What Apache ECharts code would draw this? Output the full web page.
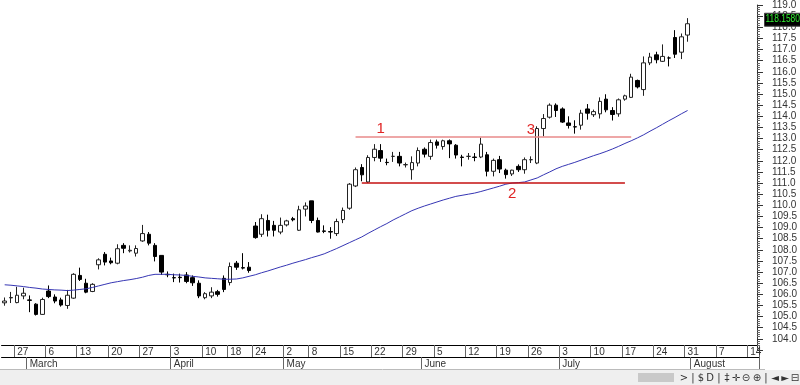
<!DOCTYPE html>
<html><head><meta charset="utf-8">
<script src="https://cdn.jsdelivr.net/npm/echarts@6/dist/echarts.min.js"></script>
<style>html,body{margin:0;padding:0;background:#fff}#c{width:800px;height:385px}</style>
</head><body><div id="c"></div>
<script>
// ---- categories (trading days) ----
const dates = [
'2017-02-23','2017-02-24','2017-02-27','2017-02-28',
'2017-03-01','2017-03-02','2017-03-03','2017-03-06','2017-03-07','2017-03-08','2017-03-09','2017-03-10',
'2017-03-13','2017-03-14','2017-03-15','2017-03-16','2017-03-17','2017-03-20','2017-03-21','2017-03-22','2017-03-23','2017-03-24',
'2017-03-27','2017-03-28','2017-03-29','2017-03-30','2017-03-31',
'2017-04-03','2017-04-04','2017-04-05','2017-04-06','2017-04-07','2017-04-10','2017-04-11','2017-04-12','2017-04-13',
'2017-04-18','2017-04-19','2017-04-20','2017-04-21','2017-04-24','2017-04-25','2017-04-26','2017-04-27','2017-04-28',
'2017-05-02','2017-05-03','2017-05-04','2017-05-05','2017-05-08','2017-05-09','2017-05-10','2017-05-11','2017-05-12',
'2017-05-15','2017-05-16','2017-05-17','2017-05-18','2017-05-19','2017-05-22','2017-05-23','2017-05-24','2017-05-25','2017-05-26',
'2017-05-29','2017-05-30','2017-05-31','2017-06-01','2017-06-02',
'2017-06-05','2017-06-06','2017-06-07','2017-06-08','2017-06-09','2017-06-12','2017-06-13','2017-06-14','2017-06-15','2017-06-16',
'2017-06-19','2017-06-20','2017-06-21','2017-06-22','2017-06-23','2017-06-26','2017-06-27','2017-06-28','2017-06-29','2017-06-30',
'2017-07-03','2017-07-04','2017-07-05','2017-07-06','2017-07-07','2017-07-10','2017-07-11','2017-07-12','2017-07-13','2017-07-14',
'2017-07-17','2017-07-18','2017-07-19','2017-07-20','2017-07-21','2017-07-24','2017-07-25','2017-07-26','2017-07-27','2017-07-28',
'2017-07-31',
'2017-08-01','2017-08-02','2017-08-03','2017-08-04','2017-08-07','2017-08-08','2017-08-09','2017-08-10','2017-08-11',
'2017-08-14','2017-08-15'
];
// ---- price series ----
const opens = [
105.62,105.84,105.63,105.93,105.75,105.56,105.10,106.15,105.88,105.75,
105.50,105.83,106.85,106.50,106.13,107.33,107.80,107.50,107.40,108.20,
107.95,107.85,108.40,108.70,108.20,107.75,106.90,106.75,106.77,106.87,
106.75,106.50,105.85,105.93,106.12,106.72,106.53,107.40,107.20,107.22,
109.07,108.70,109.32,109.10,108.80,109.12,109.40,108.88,109.83,110.20,
109.32,108.85,108.82,108.73,109.36,109.87,110.87,111.70,111.05,112.15,
112.46,111.93,112.20,112.20,111.82,111.60,111.90,112.52,112.20,112.85,
112.64,112.90,112.70,112.17,112.20,112.17,112.17,112.27,111.53,112.05,
111.58,111.41,111.75,111.60,112.05,111.90,113.45,113.96,114.50,114.33,
113.70,113.53,113.60,114.33,114.07,114.11,114.77,114.26,114.11,114.77,
114.85,115.61,115.20,116.40,116.76,116.47,116.62,117.54,116.88,117.65
];
const highs = [
105.86,106.11,106.34,106.30,105.95,105.60,105.85,106.40,106.00,105.85,
106.20,106.95,107.20,106.70,106.50,107.62,107.90,107.65,108.25,108.30,
108.20,108.20,109.12,108.80,108.30,107.75,107.03,106.93,106.93,107.00,
106.85,106.63,106.10,106.32,106.20,106.85,107.43,107.50,107.85,107.45,
109.25,109.60,109.58,109.30,109.45,109.35,109.48,109.98,110.13,110.20,
109.45,109.10,109.02,109.40,109.90,111.00,111.70,111.85,112.25,112.75,
112.75,112.10,112.40,112.40,111.92,112.20,112.60,112.60,112.95,112.95,
112.95,112.96,112.75,112.27,112.35,112.35,113.04,112.40,112.10,112.22,
111.65,111.60,111.84,112.15,112.20,113.55,114.10,114.58,114.58,114.40,
114.00,113.82,114.29,114.55,114.30,114.85,114.99,114.41,114.80,114.97,
115.91,115.65,116.69,116.85,116.90,117.23,116.69,117.87,117.72,118.41
];
const lows = [
105.49,105.61,105.60,105.78,105.20,105.05,105.08,105.83,105.60,105.45,
105.35,105.80,106.60,106.05,106.10,107.12,107.30,107.35,107.35,107.85,
107.88,107.70,108.36,108.20,107.48,106.87,106.77,106.55,106.53,106.50,
106.38,105.83,105.78,105.83,105.90,106.10,106.40,107.10,107.12,106.97,
108.50,108.58,108.60,108.60,108.70,109.05,109.28,108.85,109.50,109.20,
108.78,108.75,108.50,108.62,109.20,109.80,110.82,111.08,111.00,111.98,
111.95,111.80,111.95,111.75,111.70,111.15,111.75,112.15,112.05,112.55,
112.50,112.12,112.10,111.75,112.05,111.98,112.12,111.30,111.30,111.45,
111.20,111.32,111.50,111.42,111.90,111.85,113.10,113.90,113.97,113.70,
113.45,113.22,113.40,113.85,113.97,113.90,114.18,113.81,113.98,114.70,
114.82,115.25,114.92,116.30,116.38,116.44,116.24,116.62,116.57,117.35
];
const closes = [
105.70,105.86,105.96,106.05,105.73,105.10,105.77,105.90,105.70,105.52,
105.96,106.90,106.67,106.10,106.45,107.55,107.45,107.42,108.05,108.07,
107.98,108.06,108.73,108.30,107.70,107.00,106.88,106.74,106.75,106.58,
106.52,105.93,106.03,106.10,106.00,106.22,107.25,107.22,107.18,107.07,
108.55,109.40,108.88,108.88,109.10,109.30,109.35,109.80,109.97,109.32,
108.80,108.83,108.80,109.27,109.77,110.95,111.60,111.37,112.15,112.52,
112.12,111.92,112.20,111.90,111.83,111.92,112.46,112.30,112.82,112.70,
112.90,112.76,112.26,112.15,112.20,112.15,112.75,111.53,112.02,111.63,
111.38,111.58,111.60,112.05,112.05,113.45,113.90,114.50,114.26,113.74,
113.59,113.52,114.14,114.14,114.21,114.67,114.29,114.08,114.74,114.92,
115.76,115.32,116.40,116.66,116.54,116.69,116.62,116.79,117.57,118.158
];
const movingAvg = [
106.43,106.41,106.38,106.35,106.31,106.28,106.24,106.22,106.20,106.19,
106.17,106.19,106.22,106.25,106.31,106.38,106.45,106.52,106.57,106.62,
106.66,106.71,106.77,106.85,106.90,106.90,106.90,106.88,106.87,106.85,
106.81,106.78,106.74,106.72,106.70,106.68,106.68,106.69,106.74,106.81,
106.88,106.97,107.05,107.14,107.23,107.31,107.40,107.48,107.56,107.65,
107.73,107.82,107.94,108.06,108.19,108.32,108.45,108.58,108.74,108.89,
109.04,109.18,109.34,109.48,109.62,109.76,109.87,109.97,110.06,110.15,
110.24,110.32,110.40,110.45,110.50,110.55,110.62,110.70,110.78,110.86,
110.95,111.00,111.02,111.05,111.14,111.23,111.37,111.50,111.64,111.75,
111.84,111.93,112.03,112.13,112.23,112.32,112.42,112.53,112.65,112.78,
112.90,113.03,113.17,113.33,113.48,113.64,113.80,113.95,114.11,114.26
];
// ---- y ticks ----
const yMin = 103.5, yMax = 119.0, yStep = 0.5, yFirstLabel = 104.0;
// ---- annotations ----
const levelValues = [113.1, 111.0];
const levelStart = ['2017-05-17', '2017-05-18'];
const levelEnd = ['2017-07-18', '2017-07-17'];
const annoTexts = ['1', '2', '3'];
const annoDates = ['2017-05-23', '2017-06-21', '2017-06-26'];
const annoValues = [113.45, 110.53, 113.40];
const monthNames = ['January','February','March','April','May','June','July','August','September','October','November','December'];

const dayOf = s => new Date(s + 'T00:00:00Z');
const weekStart = dates.map((d, i) => {
  if (i === 0) return false;
  const a = dayOf(dates[i - 1]), b = dayOf(d);
  return b.getUTCDay() < a.getUTCDay() || (b - a) > 3 * 86400000;
});
const monthStart = dates.map((d, i) => i > 0 && d.slice(5, 7) !== dates[i - 1].slice(5, 7));

const candleData = opens.map((o, i) => [o, closes[i], lows[i], highs[i]]);
const lastClose = closes[closes.length - 1];
const FONT = 'Liberation Sans, Arial, sans-serif';

const chart = echarts.init(document.getElementById('c'), null, {renderer: 'canvas'});
const toolbarItems = [
  ['>', 684], ['|', 693], ['$', 701], ['D', 710], ['|', 719], ['\u2021', 727], ['\u271B', 736],
  ['\u229D', 746], ['\u2295', 757], ['|', 766], ['\u25C4', 775], ['\u25BA', 785], ['\u229F', 795]
];
chart.setOption({
  animation: false,
  backgroundColor: '#fff',
  grid: {left: 1.55, right: 37.35, top: -0.6, bottom: 35, containLabel: false},
  xAxis: [{
    type: 'category', data: dates, boundaryGap: true, position: 'bottom', offset: -5,
    axisLine: {show: true, lineStyle: {color: '#000', width: 1}},
    axisTick: {show: true, interval: (i) => weekStart[i], length: 12, lineStyle: {color: '#666'}},
    axisLabel: {show: true, interval: (i) => weekStart[i], formatter: v => String(+v.slice(8)),
      align: 'left', margin: 2, fontSize: 10, color: '#333', fontFamily: FONT},
    splitLine: {show: false}
  }, {
    type: 'category', data: dates, boundaryGap: true, position: 'bottom', offset: 7,
    axisLine: {show: true, lineStyle: {color: '#000', width: 1}},
    axisTick: {show: true, interval: (i) => monthStart[i], length: 12, lineStyle: {color: '#666'}},
    axisLabel: {show: true, interval: (i) => monthStart[i], formatter: v => monthNames[+v.slice(5, 7) - 1],
      align: 'left', margin: 2, fontSize: 10, color: '#333', fontFamily: FONT},
    splitLine: {show: false}
  }],
  yAxis: {
    type: 'value', position: 'right', offset: -2.65, min: yMin, max: yMax, interval: yStep,
    axisLine: {show: true, lineStyle: {color: '#333'}},
    axisTick: {show: true, length: 6, lineStyle: {color: '#333'}},
    minorTick: {show: true, splitNumber: 5, length: 3, lineStyle: {color: '#666'}},
    splitLine: {show: false},
    axisLabel: {margin: 15, fontSize: 10, color: '#333', fontFamily: FONT,
      formatter: v => (v < yFirstLabel - 0.01 ? '' : v.toFixed(1))}
  },
  series: [{
    type: 'candlestick', data: candleData, barWidth: 4,
    itemStyle: {color: '#fff', color0: '#000', borderColor: '#222', borderColor0: '#000', borderWidth: 1},
    markLine: {
      silent: true, symbol: ['none', 'none'], z: 10,
      label: {show: false},
      data: [
        [{coord: [levelStart[0], levelValues[0]], lineStyle: {color: '#e88a8a', width: 1.5, type: 'solid'}},
         {coord: [levelEnd[0], levelValues[0]]}],
        [{coord: [levelStart[1], levelValues[1]], lineStyle: {color: '#c41010', width: 1.5, type: 'solid'}},
         {coord: [levelEnd[1], levelValues[1]]}]
      ]
    },
    markPoint: {
      silent: true, symbol: 'rect', symbolSize: 1, itemStyle: {color: 'rgba(0,0,0,0)'},
      label: {show: true, position: 'inside', color: '#e02424', fontSize: 15, fontFamily: FONT},
      data: annoTexts.map((t, i) => ({coord: [annoDates[i], annoValues[i]], label: {formatter: t}}))
    }
  }, {
    type: 'line', data: movingAvg, symbol: 'none', smooth: false, z: 3,
    lineStyle: {color: '#3636b4', width: 1}
  }]
});

const priceY = chart.convertToPixel({yAxisIndex: 0}, lastClose);
const graphics = [
  {type: 'rect', shape: {x: 0, y: 370, width: 800, height: 15}, style: {fill: '#efefef'}, z: 100},
  {type: 'line', shape: {x1: 0, y1: 369.5, x2: 765, y2: 369.5}, style: {stroke: '#bbb', lineWidth: 1}, z: 100},
  {type: 'rect', shape: {x: 638, y: 373, width: 36, height: 9}, style: {fill: '#c9c9c9'}, z: 101},
  {type: 'rect', shape: {x: 764.5, y: priceY - 10.5, width: 36, height: 13}, style: {fill: '#000', stroke: '#444', lineWidth: 1}, z: 110},
  {type: 'text', x: 765.5, y: priceY - 4, scaleX: 0.84, z: 111,
   style: {text: lastClose.toFixed(4), fill: '#33ee33', fontSize: 10, fontFamily: FONT, align: 'left', verticalAlign: 'middle'}}
].concat(toolbarItems.map(([t, x]) => ({
  type: 'text', x: x, y: 378, z: 101,
  style: {text: t, fill: '#333', fontSize: 10, fontFamily: 'DejaVu Sans', align: 'center', verticalAlign: 'middle'}
})));
chart.setOption({graphic: graphics});
</script></body></html>
